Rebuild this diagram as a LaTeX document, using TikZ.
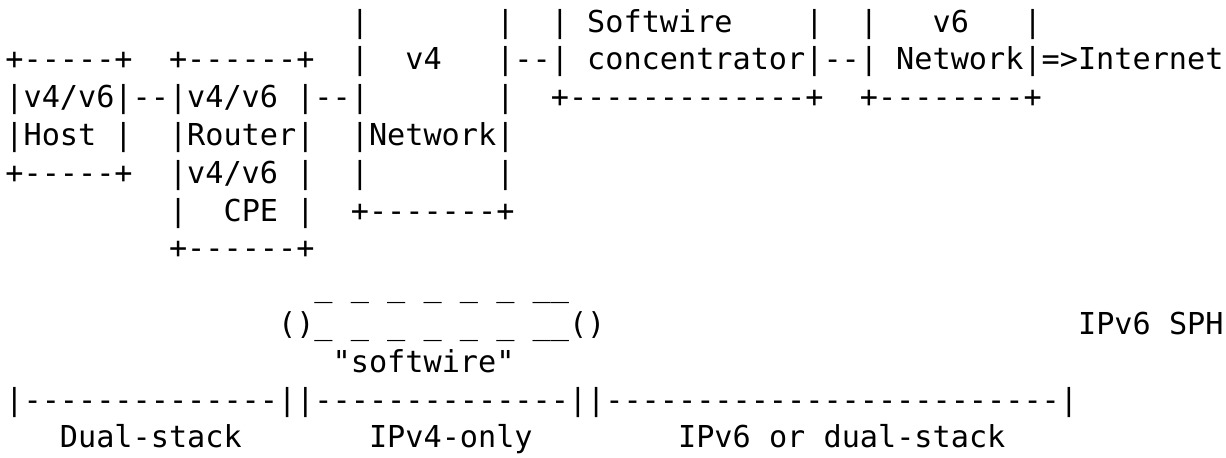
\documentclass[tikz,border=0pt]{standalone}
\usepackage{fontspec}
\setmonofont{DejaVu Sans Mono}

\begin{document}
\begin{tikzpicture}[
    x=0.5pt, y=0.5pt,
    asciirow/.style={anchor=base west, inner sep=0pt, font=\ttfamily\fontsize{15.1}{19}\selectfont}
]
    \useasboundingbox (0,0) rectangle (1226,-458);

    % --- Host, CPE, v4 network, concentrator, v6 network ---
    \node[asciirow] (line1) at (5,-32.2) {~~~~~~~~~~~~~~~~~~~|~~~~~~~|~~|~Softwire~~~~|~~|~~~v6~~~|};
    \node[asciirow] (line2) at (5,-70) {+-----+~~+------+~~|~~v4~~~|--|~concentrator|--|~Network|=>Internet};
    \node[asciirow] (line3) at (5,-107.8) {|v4/v6|--|v4/v6~|--|~~~~~~~|~~+-------------+~~+--------+};
    \node[asciirow] (line4) at (5,-145.6) {|Host~|~~|Router|~~|Network|};
    \node[asciirow] (line5) at (5,-183.4) {+-----+~~|v4/v6~|~~|~~~~~~~|};
    \node[asciirow] (line6) at (5,-221.2) {~~~~~~~~~|~~CPE~|~~+-------+};
    \node[asciirow] (line7) at (5,-259) {~~~~~~~~~+------+};

    % --- the softwire ---
    \node[asciirow] (line8) at (5,-296.8) {~~~~~~~~~~~~~~~~~\_~\_~\_~\_~\_~\_~\_\_};
    \node[asciirow] (line9) at (5,-334.6) {~~~~~~~~~~~~~~~()\_~\_~\_~\_~\_~\_~\_\_()~~~~~~~~~~~~~~~~~~~~~~~~~~IPv6~SPH};
    \node[asciirow] (line10) at (5,-372.4) {~~~~~~~~~~~~~~~~~~"softwire"};

    % --- access network types ---
    \node[asciirow] (line11) at (5,-410.2) {|--------------||--------------||-------------------------|};
    \node[asciirow] (line12) at (5,-448) {~~~Dual-stack~~~~~~~IPv4-only~~~~~~~~IPv6~or~dual-stack};

\end{tikzpicture}
\end{document}
